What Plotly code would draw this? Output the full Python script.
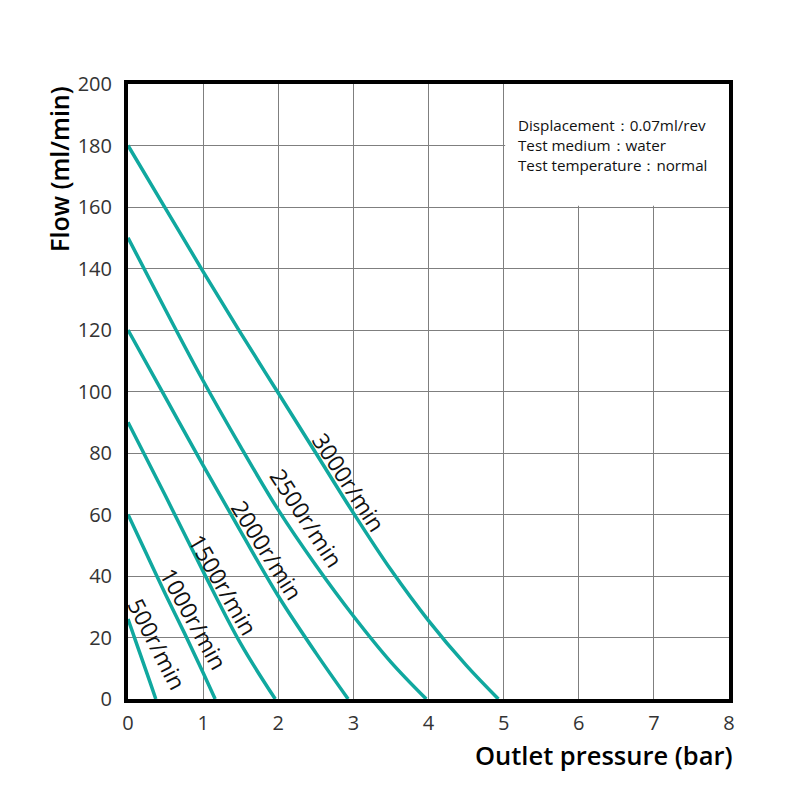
import plotly.graph_objects as go

# ---- data ----
pressure_3000 = [0, 0.5, 1, 1.5, 2, 2.5, 3, 3.5, 4, 4.5, 4.93]
flow_3000 = [180, 159.5, 139, 119, 99.5, 80, 60.5, 42, 25.5, 11, 0]

pressure_2500 = [0, 0.5, 1, 1.5, 2, 2.5, 3, 3.5, 3.97]
flow_2500 = [150, 126.5, 103.5, 82, 61.5, 43.5, 27, 12, 0]

pressure_2000 = [0, 0.5, 1, 1.5, 2, 2.5, 2.93]
flow_2000 = [120, 98, 76, 54.5, 33.5, 15, 0]

pressure_1500 = [0, 0.5, 1, 1.5, 1.96]
flow_1500 = [90, 66, 41.5, 18, 0]

pressure_1000 = [0, 0.25, 0.5, 0.75, 1.0, 1.16]
flow_1000 = [60, 47, 34, 21.5, 8.5, 0]

pressure_500 = [0, 0.1, 0.2, 0.3, 0.37]
flow_500 = [26, 19, 12, 5, 0]

series = [
    ("3000r/min", pressure_3000, flow_3000),
    ("2500r/min", pressure_2500, flow_2500),
    ("2000r/min", pressure_2000, flow_2000),
    ("1500r/min", pressure_1500, flow_1500),
    ("1000r/min", pressure_1000, flow_1000),
    ("500r/min", pressure_500, flow_500),
]

# label anchor positions (data coords) and angles
label_x = [2.94, 2.38, 1.85, 1.27, 0.88, 0.39]
label_y = [70.5, 58.9, 48.3, 37.0, 26.0, 17.9]
label_angle = [57, 57, 58, 60, 61, 63]

info_lines = ["Displacement：0.07ml/rev", "Test medium：water", "Test temperature：normal"]

x_ticks = [0, 1, 2, 3, 4, 5, 6, 7, 8]
y_ticks = [0, 20, 40, 60, 80, 100, 120, 140, 160, 180, 200]

TEAL = "#10a89f"
FONT = "Open Sans"

fig = go.Figure()
for name, xs, ys in series:
    fig.add_trace(go.Scatter(
        x=xs, y=ys, mode="lines", name=name,
        line=dict(color=TEAL, width=3.5, shape="spline", smoothing=1.0),
        showlegend=False, hoverinfo="skip",
    ))

annotations = []
for (name, _, _), lx, ly, ang in zip(series, label_x, label_y, label_angle):
    annotations.append(dict(
        x=lx, y=ly, xref="x", yref="y", text=name, showarrow=False,
        textangle=ang, font=dict(family=FONT, size=23, color="#111111"),
        xanchor="center", yanchor="middle",
    ))

annotations.append(dict(
    x=5.17, y=180.3, xref="x", yref="y", text="<br>".join(info_lines),
    showarrow=False, xanchor="left", yanchor="middle", align="left",
    font=dict(family=FONT, size=15.2, color="#111111"),
))

# axis titles
annotations.append(dict(
    x=-0.115, y=1.0, xref="paper", yref="paper", text="Flow (ml/min)",
    showarrow=False, textangle=-90, xanchor="center", yanchor="top",
    font=dict(family=FONT, size=25, color="#000000", weight=600),
))
annotations.append(dict(
    x=1.01, y=-0.0905, xref="paper", yref="paper", text="Outlet pressure (bar)",
    showarrow=False, xanchor="right", yanchor="middle",
    font=dict(family=FONT, size=25.5, color="#000000", weight=600),
))

shapes = [dict(
    type="rect", xref="x", yref="y", x0=5.02, x1=8, y0=160.4, y1=200,
    fillcolor="white", line=dict(width=0), layer="between",
)]

fig.update_layout(
    width=800, height=800,
    margin=dict(l=128, r=71, t=84, b=101),
    paper_bgcolor="white", plot_bgcolor="white",
    annotations=annotations, shapes=shapes,
    xaxis=dict(
        range=[0, 8], tickvals=x_ticks, showgrid=True, gridcolor="#7f7f7f", gridwidth=1,
        showline=True, linecolor="black", linewidth=4, mirror=True, zeroline=False,
        ticks="", ticklabelstandoff=3,
        tickfont=dict(family=FONT, size=20, color="#333333"),
    ),
    yaxis=dict(
        range=[0, 200], tickvals=y_ticks, showgrid=True, gridcolor="#7f7f7f", gridwidth=1,
        showline=True, linecolor="black", linewidth=4, mirror=True, zeroline=False,
        ticks="", ticklabelstandoff=8,
        tickfont=dict(family=FONT, size=20, color="#333333"),
    ),
)

fig.write_html("out.html")
